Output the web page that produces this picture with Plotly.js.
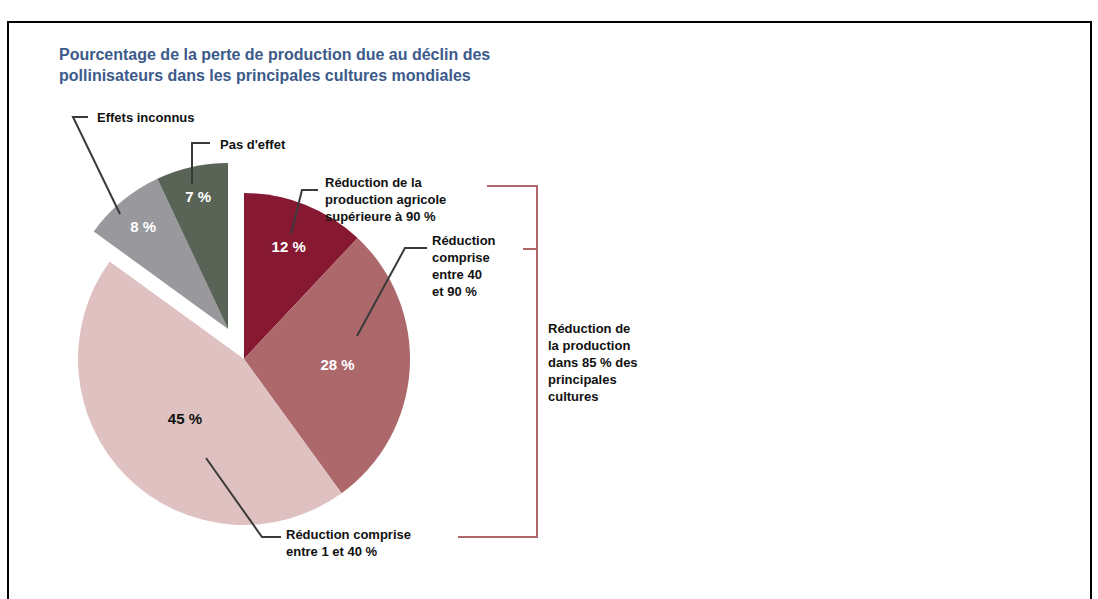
<!DOCTYPE html>
<html>
<head>
<meta charset="utf-8">
<script src="https://cdn.plot.ly/plotly-3.0.1.min.js"></script>
<style>
  html, body { margin: 0; padding: 0; background: #ffffff; }
  #chart { width: 1098px; height: 599px; }
</style>
</head>
<body>
<div id="chart"></div>
<script>
// ---------------- data ----------------
const titleLines = [
  "Pourcentage de la perte de production due au déclin des",
  "pollinisateurs dans les principales cultures mondiales"
];
// slices drawn in the main part of the pie (clockwise from 12 o'clock)
const mainLabels = [
  "Réduction de la production agricole supérieure à 90 %",
  "Réduction comprise entre 40 et 90 %",
  "Réduction comprise entre 1 et 40 %"
];
const mainValues = [12, 28, 45];
const mainColors = ["#871832", "#ad686b", "#dec1c0"];
const mainTextColors = ["#ffffff", "#ffffff", "#111111"];

// slices pulled out of the pie
const otherLabels = ["Effets inconnus", "Pas d'effet"];
const otherValues = [8, 7];
const otherColors = ["#99999d", "#596457"];
const otherTextColors = ["#ffffff", "#ffffff"];

// callout texts, one entry per printed line
const calloutEffets = ["Effets inconnus"];
const calloutPas = ["Pas d'effet"];
const callout12 = ["Réduction de la", "production agricole", "supérieure à 90 %"];
const callout28 = ["Réduction", "comprise", "entre 40", "et 90 %"];
const callout45 = ["Réduction comprise", "entre 1 et 40 %"];
const bracketLines = ["Réduction de", "la production", "dans 85 % des", "principales", "cultures"];

// ---------------- layout helpers ----------------
const W = 1098, H = 599;
const X = p => p / W;
const Y = p => 1 - p / H;
const FONT = "Liberation Sans, Arial, Helvetica, sans-serif";
const pct = v => v + " %";
const sum = a => a.reduce((s, v) => s + v, 0);

// pie geometry (pixels)
const R = 166, CX = 244, CY = 359;
const PULL_DX = -16, PULL_DY = -30;

function domainFor(cx, cy) {
  return { x: [X(cx - R), X(cx + R)], y: [Y(cy + R), Y(cy - R)] };
}

const mainTrace = {
  type: "pie",
  labels: mainLabels.concat(["__rest"]),
  values: mainValues.concat([sum(otherValues)]),
  text: mainValues.map(pct).concat([""]),
  textinfo: "text",
  textposition: "inside",
  insidetextorientation: "horizontal",
  sort: false,
  direction: "clockwise",
  rotation: 0,
  domain: domainFor(CX, CY),
  marker: { colors: mainColors.concat(["rgba(0,0,0,0)"]), line: { width: 0 } },
  textfont: { family: FONT, size: 15, weight: "bold", color: mainTextColors.concat(["rgba(0,0,0,0)"]) },
  hoverinfo: "none",
  showlegend: false
};

const pulledTrace = {
  type: "pie",
  labels: ["__rest2"].concat(otherLabels),
  values: [sum(mainValues)].concat(otherValues),
  text: [""].concat(otherValues.map(pct)),
  textinfo: "text",
  textposition: "inside",
  insidetextorientation: "horizontal",
  sort: false,
  direction: "clockwise",
  rotation: 0,
  domain: domainFor(CX + PULL_DX, CY + PULL_DY),
  marker: { colors: ["rgba(0,0,0,0)"].concat(otherColors), line: { width: 0 } },
  textfont: { family: FONT, size: 15, weight: "bold", color: ["rgba(0,0,0,0)"].concat(otherTextColors) },
  hoverinfo: "none",
  showlegend: false
};

function path(points) {
  return "M " + points.map(p => X(p[0]).toFixed(5) + "," + Y(p[1]).toFixed(5)).join(" L ");
}
function line(points, color, width) {
  return { type: "path", xref: "paper", yref: "paper", path: path(points),
           line: { color: color, width: width }, layer: "above" };
}

const LEADER = "#3a3a3a";
const BRACKET = "#b0676a";
const shapes = [
  // frame
  { type: "rect", xref: "paper", yref: "paper", x0: X(8), x1: X(1091), y0: Y(22), y1: Y(640),
    line: { color: "#000000", width: 2 }, fillcolor: "rgba(0,0,0,0)" },
  // leaders
  line([[88, 117], [73, 117], [120, 214]], LEADER, 2),
  line([[210, 143], [192, 143], [192, 184]], LEADER, 2),
  line([[318, 190], [302, 190], [291, 234]], LEADER, 2),
  line([[427, 248], [405, 248], [357, 336]], LEADER, 2),
  line([[206, 458], [262, 537], [281, 537]], LEADER, 2),
  // bracket
  line([[487, 186], [537, 186], [537, 537], [458, 537]], BRACKET, 2),
  line([[523, 249], [537, 249]], BRACKET, 2)
];

const annotations = [];
function callout(lines, x, yc) {
  annotations.push({
    xref: "paper", yref: "paper", x: X(x), y: Y(yc),
    xanchor: "left", yanchor: "middle", showarrow: false, borderpad: 0,
    text: lines.join("<br>"), align: "left",
    font: { family: FONT, size: 13, weight: "bold", color: "#111111" }
  });
}
callout(calloutEffets, 96, 117);
callout(calloutPas, 219, 144);
callout(callout12, 324, 199);
callout(callout28, 431, 266);
callout(callout45, 285, 543);
callout(bracketLines, 547, 362);

const layout = {
  width: W, height: H,
  margin: { l: 0, r: 0, t: 0, b: 0 },
  paper_bgcolor: "#ffffff",
  plot_bgcolor: "#ffffff",
  showlegend: false,
  title: {
    text: titleLines.join("<br>"),
    xref: "paper", yref: "paper",
    x: X(59), xanchor: "left",
    y: Y(60), yanchor: "top",
    font: { family: FONT, size: 16, weight: "bold", color: "#3c5a8a" }
  },
  shapes: shapes,
  annotations: annotations
};

Plotly.newPlot("chart", [mainTrace, pulledTrace], layout, { displayModeBar: false, staticPlot: true });
</script>
</body>
</html>
